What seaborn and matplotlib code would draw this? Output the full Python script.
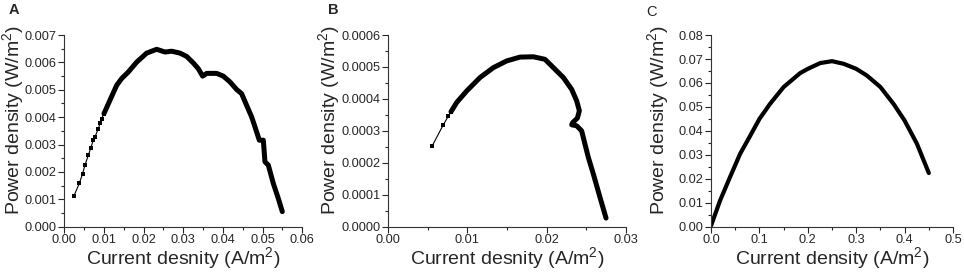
import seaborn as sns
import pandas as pd
import matplotlib.pyplot as plt
from matplotlib.ticker import MultipleLocator, AutoMinorLocator

# panel A: sparse start points and dense measured curve
a_cur_sparse = [0.00244, 0.00378, 0.00462, 0.00521, 0.00605, 0.00664, 0.00731, 0.00773,
                0.00857, 0.00899, 0.00941, 0.0100]
a_pow_sparse = [0.00113, 0.00158, 0.00194, 0.00225, 0.00261, 0.00286, 0.00316, 0.00328,
                0.00358, 0.00377, 0.00395, 0.00413]
a_cur = [0.0100, 0.01151, 0.01319, 0.01445, 0.01613, 0.01824, 0.02076, 0.02328, 0.02538,
         0.02706, 0.02916, 0.03084, 0.03252, 0.03378, 0.03487, 0.03588, 0.0384, 0.04008,
         0.04176, 0.04345, 0.0447, 0.04597, 0.04723, 0.04849, 0.04916, 0.05017, 0.05059,
         0.05143, 0.05269, 0.05395, 0.05496]
a_pow = [0.00413, 0.00462, 0.00516, 0.00541, 0.00565, 0.00601, 0.00634, 0.00648, 0.00638,
         0.00641, 0.00634, 0.00622, 0.00598, 0.00577, 0.0055, 0.0056, 0.0056, 0.0055,
         0.00529, 0.00501, 0.00486, 0.00443, 0.00401, 0.00346, 0.00316, 0.00316, 0.00237,
         0.00225, 0.00158, 0.00103, 0.00055]

# panel B
b_cur_sparse = [0.00559, 0.00697, 0.0076, 0.00794]
b_pow_sparse = [0.000254, 0.000319, 0.000346, 0.00036]
b_cur = [0.00794, 0.00866, 0.00992, 0.0116, 0.01328, 0.01496, 0.01664, 0.01832, 0.01979,
         0.02084, 0.0221, 0.02315, 0.02378, 0.02412, 0.02387, 0.02328, 0.02315, 0.02378,
         0.02441, 0.02483, 0.02525, 0.02588, 0.02672, 0.02748]
b_pow = [0.00036, 0.000389, 0.000425, 0.000467, 0.000498, 0.000519, 0.000531, 0.000532,
         0.000524, 0.000498, 0.000467, 0.00043, 0.000394, 0.000363, 0.00034, 0.000326,
         0.000319, 0.000316, 0.0003, 0.000258, 0.000217, 0.000165, 0.0000917, 0.000027]

# panel C
c_cur = [0.0, 0.0186, 0.039, 0.060, 0.081, 0.100, 0.122, 0.150, 0.184, 0.200, 0.2255,
         0.250, 0.274, 0.300, 0.322, 0.350, 0.377, 0.400, 0.4255, 0.450]
c_pow = [0.0004, 0.0109, 0.0206, 0.0304, 0.038, 0.045, 0.0513, 0.0583, 0.0641, 0.0659,
         0.0683, 0.0691, 0.068, 0.0659, 0.0631, 0.0583, 0.0513, 0.0443, 0.0346, 0.0224]

sns.set_style("ticks")
plt.rcParams['font.family'] = ['Liberation Sans', 'DejaVu Sans']
plt.rcParams['mathtext.fontset'] = 'custom'
plt.rcParams['mathtext.rm'] = 'Liberation Sans'

fig = plt.figure(figsize=(9.64, 2.73), dpi=100)
boxes = [(0.0667, 0.1696, 0.2469, 0.702),
         (0.4025, 0.1696, 0.2469, 0.702),
         (0.7376, 0.1696, 0.2510, 0.702)]
axes = [fig.add_axes(b) for b in boxes]

panels = [
    (a_cur_sparse, a_pow_sparse, a_cur, a_pow, (0, 0.06), 0.01, (0, 0.007), 0.001,
     'Current desnity (A/m$^2$)', '%.2f', '%.3f', 3.6, -0.157),
    (b_cur_sparse, b_pow_sparse, b_cur, b_pow, (0, 0.03), 0.01, (0, 0.0006), 0.0001,
     'Current desnity (A/m$^2$)', '%.2f', '%.4f', 3.6, -0.19),
    ([], [], c_cur, c_pow, (0, 0.5), 0.1, (0, 0.08), 0.01,
     'Current density (A/m$^2$)', '%.1f', '%.2f', 3.0, -0.16),
]

for ax, (xs, ys, xd, yd, xl, xstep, yl, ystep, xlabel, xfmt, yfmt, lw, ylx) in zip(axes, panels):
    if xs:
        sp = pd.DataFrame({'cur': xs, 'pow': ys})
        sns.lineplot(data=sp, x='cur', y='pow', ax=ax, sort=False, estimator=None,
                     color='black', lw=0.8, marker='s', markersize=3.2,
                     markeredgewidth=0)
    dn = pd.DataFrame({'cur': xd, 'pow': yd})
    sns.lineplot(data=dn, x='cur', y='pow', ax=ax, sort=False, estimator=None,
                 color='black', lw=lw, solid_joinstyle='round', solid_capstyle='round')
    ax.set_xlim(*xl)
    ax.set_ylim(*yl)
    ax.xaxis.set_major_locator(MultipleLocator(xstep))
    ax.yaxis.set_major_locator(MultipleLocator(ystep))
    ax.xaxis.set_minor_locator(AutoMinorLocator(2))
    ax.yaxis.set_minor_locator(AutoMinorLocator(2))
    ax.xaxis.set_major_formatter(plt.FormatStrFormatter(xfmt))
    ax.yaxis.set_major_formatter(plt.FormatStrFormatter(yfmt))
    ax.tick_params(which='major', length=4, width=0.8, labelsize=9.2, pad=1.5)
    ax.tick_params(which='minor', length=2, width=0.8)
    sns.despine(ax=ax)
    for s in ['left', 'bottom']:
        ax.spines[s].set_linewidth(0.8)
        ax.spines[s].set_color('#333333')
    ax.set_xlabel(xlabel, fontsize=14, va='top')
    ax.xaxis.set_label_coords(0.5, -0.097)
    ax.set_ylabel('Power density (W/m$^2$)', fontsize=14)
    ax.yaxis.set_label_coords(ylx, 0.557)

fig.text(0.0145, 0.962, 'A', fontsize=10.5, fontweight='bold', ha='center', va='center')
fig.text(0.3455, 0.962, 'B', fontsize=10.5, fontweight='bold', ha='center', va='center')
fig.text(0.6755, 0.955, 'C', fontsize=10.5, ha='center', va='center')

fig.savefig('out.png', dpi=100)
